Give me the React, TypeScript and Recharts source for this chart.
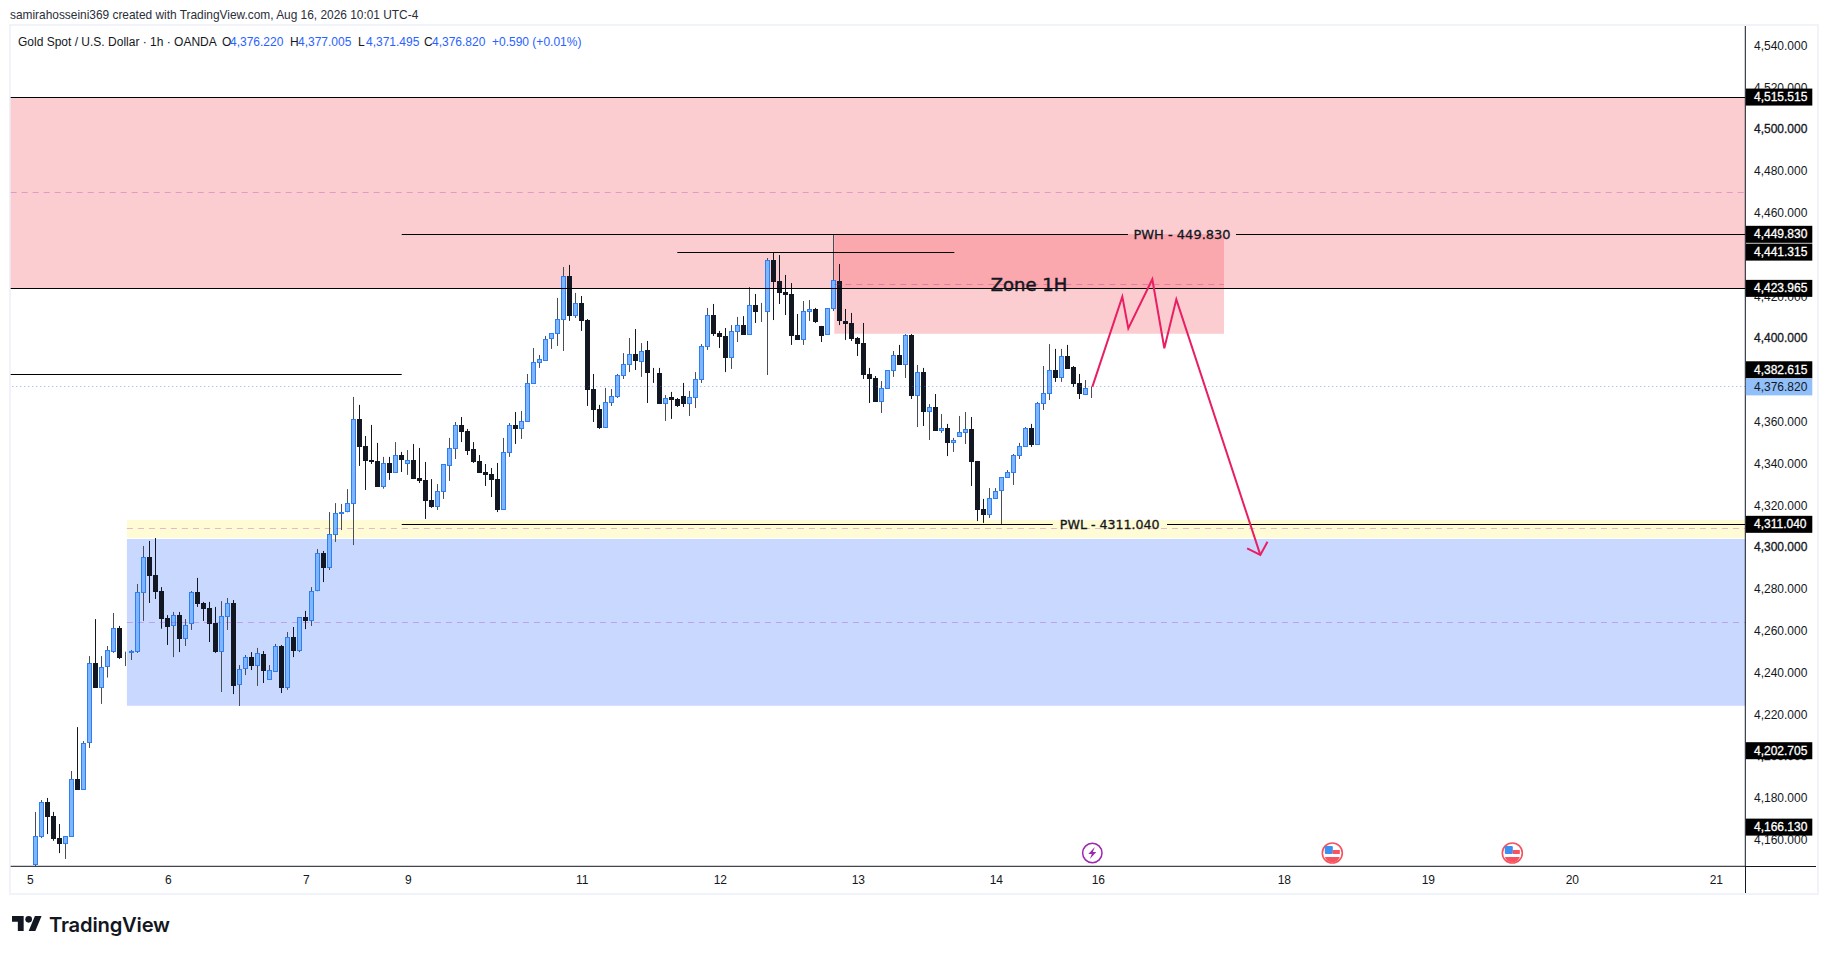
import React from 'react';
import {
  ComposedChart,
  Bar,
  Line,
  XAxis,
  YAxis,
  ReferenceArea,
  ReferenceLine,
  ReferenceDot
} from 'recharts';

const opens = [
  4148, 4161.6, 4178.1, 4171.4, 4160.9, 4158.2, 4161.6, 4189.2, 4184.1, 4206.2, 4244.7, 4232.9, 4242.6, 4250.1, 4261.4, 4247.2,
  4249.6, 4250.1, 4278.3, 4295.4, 4286.8, 4279.1, 4266.2, 4262.2, 4267.6, 4256.3, 4263.2, 4278.7, 4273.4, 4271, 4263.8, 4250.1,
  4266.8, 4273.4, 4234, 4241.6, 4247.5, 4243.4, 4249, 4236.7, 4240.5, 4252.8, 4232.9, 4257.1, 4250.6, 4266.7, 4264.9, 4279,
  4297.3, 4290.3, 4306.1, 4316.1, 4316.8, 4320.9, 4361.4, 4348.5, 4341.8, 4341.3, 4329.1, 4340.4, 4335.8, 4344.2, 4340.1, 4341.8,
  4333.2, 4332.3, 4322.7, 4319.5, 4326.7, 4339.1, 4347.3, 4358.6, 4355.7, 4347.1, 4341.4, 4336.1, 4335.1, 4332.7, 4318.1, 4345.3,
  4358.6, 4356.8, 4360.2, 4378.4, 4388.4, 4389.4, 4399.9, 4402.3, 4409, 4429.9, 4410.7, 4417, 4408.8, 4375.8, 4366.2, 4357.3,
  4369.3, 4372.1, 4382.2, 4387.5, 4392.6, 4388.9, 4394.5, 4383.9, 4383.5, 4368.8, 4372, 4371, 4372.5, 4368.8, 4371.7, 4380.3,
  4396.1, 4411.2, 4402.6, 4401.2, 4390.8, 4403.2, 4406.4, 4401.8, 4416, 4412.8, 4412.8, 4437.5, 4427.5, 4422.2, 4421.3, 4401.7,
  4399.4, 4412.8, 4414.1, 4406, 4401.8, 4414.3, 4427.5, 4408.4, 4407.4, 4400.2, 4397.8, 4383, 4381.1, 4369.7, 4376, 4384.6,
  4392.1, 4387.5, 4401.7, 4372.6, 4383.9, 4365, 4367.2, 4355.9, 4357.1, 4350.1, 4353, 4354.9, 4356.7, 4341.4, 4318.4, 4315.7,
  4323.3, 4327.2, 4333.4, 4335.8, 4343.9, 4348.2, 4357.1, 4349.2, 4368.8, 4373.6, 4384.9, 4381.2, 4391.6, 4386.3, 4378.7, 4373.1,
  4376.22
];
const highs = [
  4173.4, 4179.1, 4180.1, 4173.4, 4167.6, 4161.7, 4193, 4214, 4207.3, 4248, 4265.7, 4248, 4252.8, 4268.6, 4262.4, 4250.1,
  4250.9, 4282.5, 4300.7, 4303.1, 4304.5, 4281, 4267.6, 4269.1, 4269.1, 4265.7, 4279.1, 4285.4, 4273.9, 4273.9, 4271.5, 4274.3,
  4275.8, 4274.8, 4243.7, 4248.5, 4249.9, 4251.9, 4250.4, 4243.7, 4253.8, 4253.3, 4259.5, 4261.9, 4266.5, 4269.6, 4281, 4299.2,
  4298.3, 4316.9, 4321.2, 4320.8, 4327.9, 4372, 4368.2, 4353.3, 4358.6, 4350, 4343.3, 4343.3, 4350.4, 4345.7, 4346.6, 4349.5,
  4347.6, 4340.9, 4332.7, 4330.3, 4339.8, 4352.4, 4360, 4362.4, 4356.7, 4350.4, 4344.2, 4339.9, 4338, 4340.4, 4352.4, 4359.5,
  4364.8, 4365.3, 4383, 4395.4, 4392.1, 4401.2, 4402.5, 4419.4, 4434.2, 4435.2, 4421.8, 4420.3, 4409.3, 4383, 4368.2, 4376.3,
  4375.8, 4383, 4393, 4400.2, 4404.5, 4397.8, 4398.8, 4385.9, 4385.9, 4372.9, 4374.4, 4371.5, 4378.7, 4374.9, 4383.9, 4397.3,
  4414.6, 4416.5, 4403.6, 4405, 4406.4, 4410.3, 4410.7, 4424.6, 4421.3, 4417, 4438.5, 4440.9, 4439.9, 4430.4, 4426.5, 4411.7,
  4417.9, 4418.4, 4414.6, 4406, 4414.4, 4449.8, 4435.6, 4414.1, 4412.2, 4400.7, 4407.4, 4385.9, 4382, 4379.6, 4384.7, 4394,
  4396.9, 4402.1, 4402.1, 4387.3, 4385.9, 4368.6, 4373.4, 4363.8, 4359.1, 4352.4, 4362.9, 4364.8, 4362.4, 4341.4, 4323.2, 4328.4,
  4328.4, 4333.5, 4337, 4344.7, 4350, 4357.6, 4359.1, 4369.6, 4386.8, 4397.3, 4395, 4395, 4396.9, 4386.8, 4383, 4380.1,
  4377.005
];
const lows = [
  4147.5, 4160.9, 4162.8, 4159.6, 4153.7, 4150.9, 4161.6, 4184.1, 4184.1, 4204, 4232.9, 4225.1, 4237.7, 4249.5, 4246.6, 4243.2,
  4246.1, 4249.5, 4264.8, 4273.4, 4275.3, 4261.1, 4253.3, 4247.5, 4249.9, 4252.8, 4260.5, 4271.5, 4264.8, 4254.7, 4249.5, 4230.8,
  4260.5, 4229.8, 4224.1, 4238.9, 4241.3, 4233.7, 4235.1, 4236.7, 4240.5, 4230.3, 4231.8, 4247.5, 4249.9, 4260.9, 4262.4, 4279,
  4283.4, 4289.2, 4302.6, 4308.3, 4316.8, 4301.1, 4339, 4327.5, 4339.9, 4328.9, 4328.1, 4332.3, 4335.8, 4336.1, 4334.7, 4332.7,
  4330.8, 4313.6, 4318.9, 4317.9, 4323.2, 4331.8, 4342.3, 4350.4, 4344.2, 4340.4, 4335.6, 4329.4, 4324.1, 4316.9, 4318.1, 4343.3,
  4349.5, 4351.9, 4360.2, 4378.4, 4385.9, 4389.4, 4395, 4396.4, 4394, 4408.4, 4409.8, 4403.6, 4367.7, 4360, 4356.7, 4357.3,
  4367.7, 4371.5, 4380.6, 4383.9, 4384.9, 4381.6, 4369.1, 4378.7, 4368.6, 4360.5, 4361.5, 4367.2, 4367.2, 4362.9, 4366.7, 4378.7,
  4394.5, 4401.2, 4395.4, 4383.9, 4385.4, 4398.3, 4401.7, 4401.8, 4407.4, 4407.9, 4382.5, 4408.8, 4416.5, 4411.2, 4396.9, 4399.3,
  4396.9, 4408.4, 4407.4, 4398.3, 4401.8, 4413.1, 4406.4, 4399.3, 4398.8, 4391.6, 4380.6, 4369.1, 4369.6, 4364.3, 4376, 4381.6,
  4387.3, 4381.1, 4371, 4357.6, 4358.1, 4351.4, 4355.7, 4354.8, 4343.7, 4345.7, 4353, 4349.5, 4329.4, 4312.6, 4311.7, 4314.1,
  4323.3, 4311.2, 4333.4, 4329.9, 4342.3, 4348.2, 4348.1, 4349.2, 4365.8, 4370.5, 4379.2, 4379.2, 4385.4, 4376.8, 4371, 4372.9,
  4371.495
];
const closes = [
  4161.7, 4178, 4171.1, 4160.6, 4158, 4161.7, 4189, 4184.1, 4206.2, 4244.5, 4232.9, 4242.6, 4250.7, 4261.3, 4247.2, 4247.5,
  4250.4, 4278.5, 4295.2, 4286.5, 4278.8, 4265.9, 4262.1, 4267.5, 4256.3, 4262.7, 4278.5, 4273.1, 4270.7, 4263.5, 4249.9, 4267,
  4273.2, 4233.8, 4241.6, 4247.4, 4243.4, 4249.3, 4241, 4241.2, 4252.7, 4232.9, 4257, 4250.6, 4266.5, 4264.9, 4279, 4297.2,
  4290.3, 4306.3, 4316.3, 4316.9, 4321.1, 4361.3, 4348.2, 4341.5, 4341, 4328.9, 4340.2, 4335.8, 4344.1, 4341.8, 4341.7, 4332.7,
  4331.8, 4322.2, 4319.3, 4326.8, 4339.8, 4347.4, 4358.4, 4355.2, 4346.1, 4340.9, 4335.6, 4334.7, 4332.3, 4317.9, 4345.5, 4358.4,
  4356.7, 4360.3, 4378.5, 4388.6, 4390, 4399.6, 4402.5, 4409.2, 4429.7, 4410.7, 4416.8, 4408.4, 4375.3, 4365.8, 4357.1, 4369.4,
  4372.3, 4382.3, 4387.6, 4392.4, 4389.2, 4393.8, 4383.5, 4383.5, 4368.6, 4371.3, 4370.5, 4367.7, 4368.6, 4371.8, 4380.4, 4396.2,
  4411.1, 4402.1, 4400.7, 4390.6, 4403.4, 4406.3, 4401.7, 4415.9, 4412.7, 4413.1, 4437.4, 4427, 4421.8, 4420.8, 4401.2, 4399.3,
  4413, 4413.9, 4407.9, 4401.2, 4414.4, 4427.8, 4408.4, 4406.9, 4399.7, 4397.3, 4382.5, 4380.6, 4369.6, 4376.1, 4384.7, 4391.9,
  4387.3, 4401.5, 4372.5, 4383.8, 4364.8, 4367, 4355.7, 4357, 4350, 4351.2, 4355.1, 4356.5, 4340.9, 4317.9, 4315.5, 4323.5,
  4326.8, 4333.5, 4335.9, 4344.1, 4348.4, 4357, 4349, 4368.9, 4373.7, 4384.7, 4381.1, 4391.4, 4385.4, 4378.2, 4373.4, 4376.1,
  4376.82
];

// 4,380 and 4,440 sit fully behind the price tags, so they are left out
const priceTicks = [
  4160, 4180, 4200, 4220, 4240, 4260, 4280, 4300, 4320, 4340, 4360, 4400,
  4420, 4460, 4480, 4500, 4520, 4540
];
const dayTicks = [-1, 22, 45, 62, 91, 114, 137, 160, 177, 208, 232, 256, 280];
const dayLabels = ['5', '6', '7', '9', '11', '12', '13', '14', '16', '18', '19', '20', '21'];

const priceTags = [4515.515, 4449.83, 4441.315, 4423.965, 4382.615, 4311.04, 4202.705, 4166.13];
const lastPrice = 4376.82;

const projectionIndex = [176, 181, 182, 186, 188, 190, 204];
const projectionPrice = [4376.82, 4420, 4404.8, 4428.3, 4395.3, 4418.7, 4296.4];
const arrowIndex = [201.8, 204, 205.2];
const arrowPrice = [4299.5, 4296.4, 4302.7];

const candles = opens.map((open, i) => ({
  i,
  open,
  high: highs[i],
  low: lows[i],
  close: closes[i]
}));
const projection = projectionIndex.map((i, k) => ({ i, path: projectionPrice[k] }));
const arrowHead = arrowIndex.map((i, k) => ({ i, path: arrowPrice[k] }));

const X_MIN = -4.27;
const X_MAX = 284.83;
const AXIS_FONT = '"Liberation Sans", Arial, sans-serif';
const INK = '#131722';
const RULE = '#000000';

const Candle = (props: any) => {
  const { x, y, width, height, payload } = props;
  const { open, high, low, close } = payload;
  const up = close >= open;
  const perUnit = Math.abs(height) / (high - low);
  const cx = Math.floor(x + width / 2) + 0.5;
  const top = y + (high - Math.max(open, close)) * perUnit;
  const bottom = y + (high - Math.min(open, close)) * perUnit;
  const bodyTop = Math.round(top) + 0.5;
  const bodyH = Math.max(Math.round(bottom) - Math.round(top) - 1, 0);
  return (
    <g>
      <line x1={cx} x2={cx} y1={y} y2={y + Math.abs(height)} stroke={up ? '#4a4d55' : INK} strokeWidth={1} />
      <rect
        x={cx - 2}
        y={bodyTop}
        width={4}
        height={bodyH}
        fill={up ? '#7fb5fb' : INK}
        stroke={up ? '#2e7ff6' : INK}
        strokeWidth={1}
      />
    </g>
  );
};

// one pixel rule, snapped so it stays as sharp as the reference
const CrispLine = (props: any) => {
  const { x1, x2, y1, y2, stroke, strokeOpacity, strokeDasharray } = props;
  const y = Math.floor((y1 + y2) / 2) + 0.5;
  return (
    <line
      x1={x1}
      x2={x2}
      y1={y}
      y2={y}
      stroke={stroke}
      strokeOpacity={strokeOpacity}
      strokeDasharray={strokeDasharray}
      strokeWidth={1}
    />
  );
};

const PriceTick = (props: any) => {
  const { y, payload } = props;
  const major = payload.value % 100 === 0;
  return (
    <text
      x={1754}
      y={y}
      dy={4}
      fontFamily={AXIS_FONT}
      fontSize={12}
      fill={INK}
      stroke={major ? INK : 'none'}
      strokeWidth={major ? 0.3 : 0}
    >
      {payload.value.toLocaleString('en-US', { minimumFractionDigits: 3 })}
    </text>
  );
};

const DayTick = (props: any) => {
  const { x, index } = props;
  return (
    <text x={x} y={884} textAnchor="middle" fontFamily={AXIS_FONT} fontSize={12} fill={INK}>
      {dayLabels[index]}
    </text>
  );
};

const PriceTag = (props: any) => {
  const { cx, cy, price, bg, ink, nudge = 0 } = props;
  const mid = cy + nudge;
  return (
    <g>
      <rect x={cx + 0.5} y={mid - 8.5} width={66.5} height={17} fill={bg} />
      <text
        x={1754}
        y={mid + 4}
        fontFamily={AXIS_FONT}
        fontSize={12}
        fill={ink}
        stroke={bg === '#000000' ? ink : 'none'}
        strokeWidth={0.3}
      >
        {price.toLocaleString('en-US', { minimumFractionDigits: 3 })}
      </text>
    </g>
  );
};

const Caption = (props: any) => {
  const { cx, cy, text, size, weight } = props;
  return (
    <text
      x={cx}
      y={cy}
      dy={size * 0.36}
      textAnchor="middle"
      fontFamily='"DejaVu Sans", sans-serif'
      fontSize={size}
      fill={INK}
      stroke={INK}
      strokeWidth={weight}
    >
      {text}
    </text>
  );
};

const BoltIcon = ({ cx, cy }: any) => (
  <g>
    <circle cx={cx} cy={cy} r={9.7} fill="#fff" stroke="#9c27b0" strokeWidth={1.5} />
    <path
      d={`M${cx + 2.5} ${cy - 6} L${cx - 4} ${cy + 1} L${cx - 0.5} ${cy + 1} L${cx - 2.5} ${cy + 6} L${cx + 4} ${cy - 1} L${cx + 0.5} ${cy - 1} Z`}
      fill="#9c27b0"
    />
  </g>
);

const FlagIcon = ({ cx, cy }: any) => (
  <g>
    <circle cx={cx} cy={cy} r={10} fill="#fff" stroke="#f7525f" strokeWidth={1.6} />
    <path d={`M${cx - 7.5} ${cy + 4} A8 8 0 0 0 ${cx + 7.5} ${cy + 4} Z`} fill="#f7525f" />
    <rect x={cx - 7.5} y={cy - 7} width={8} height={8} rx={1} fill="#3d8ff0" />
    <rect x={cx + 0.5} y={cy - 3} width={7} height={4} fill="#f7525f" />
  </g>
);

const Quote = ({ left, children, color }: any) => (
  <span style={{ position: 'absolute', left, top: 35, color: color || INK, whiteSpace: 'nowrap' }}>{children}</span>
);

const App = () => {
  return (
    <div style={{ position: 'absolute', left: 0, top: 0, width: 1827, height: 954, background: '#fff', overflow: 'hidden', fontFamily: AXIS_FONT, fontSize: 12 }}>
      <div style={{ position: 'absolute', left: 9, top: 24, width: 1806, height: 867, border: '2px solid #f0f3fa' }} />
      <div style={{ position: 'absolute', left: 10, top: 8, color: '#2a2e39', whiteSpace: 'nowrap', fontSize: 11.9 }}>
        samirahosseini369 created with TradingView.com, Aug 16, 2026 10:01 UTC-4
      </div>

      <div style={{ position: 'absolute', left: 0, top: 0 }}>
        <ComposedChart
          width={1827}
          height={954}
          data={candles}
          margin={{ top: 26, right: 9.7, bottom: 61, left: 10.7 }}
        >
          <XAxis
            dataKey="i"
            type="number"
            domain={[X_MIN, X_MAX]}
            ticks={dayTicks}
            interval={0}
            tick={<DayTick />}
            tickLine={false}
            height={26.7}
            stroke={INK}
            allowDataOverflow
          />
          <YAxis
            orientation="right"
            domain={[4147.38, 4549.53]}
            ticks={priceTicks}
            interval={0}
            tick={<PriceTick />}
            tickLine={false}
            width={72}
            stroke={INK}
            allowDataOverflow
          />

          <ReferenceArea x1={X_MIN} x2={X_MAX} y1={4423.965} y2={4515.515} fill="#f23645" fillOpacity={0.25} stroke="none" />
          <ReferenceArea x1={133} x2={197.95} y1={4402.3} y2={4449.83} fill="#f23645" fillOpacity={0.25} stroke="none" />
          <ReferenceArea x1={15.1} x2={X_MAX} y1={4304.6} y2={4313.1} fill="#ffeb3b" fillOpacity={0.22} stroke="none" />
          <ReferenceArea x1={15.1} x2={X_MAX} y1={4224.25} y2={4304} fill="#2962ff" fillOpacity={0.25} stroke="none" />

          <ReferenceLine segment={[{ x: X_MIN, y: 4469.9 }, { x: X_MAX, y: 4469.9 }]} shape={CrispLine} stroke="#9c27b0" strokeOpacity={0.3} strokeDasharray="6 5" />
          <ReferenceLine segment={[{ x: 133, y: 4425.9 }, { x: 197.95, y: 4425.9 }]} shape={CrispLine} stroke="#9c27b0" strokeOpacity={0.3} strokeDasharray="6 5" />
          <ReferenceLine segment={[{ x: 15.1, y: 4309.1 }, { x: X_MAX, y: 4309.1 }]} shape={CrispLine} stroke="#9c27b0" strokeOpacity={0.3} strokeDasharray="6 5" />
          <ReferenceLine segment={[{ x: 15.1, y: 4264.1 }, { x: X_MAX, y: 4264.1 }]} shape={CrispLine} stroke="#9c27b0" strokeOpacity={0.3} strokeDasharray="6 5" />

          <ReferenceLine y={lastPrice} shape={CrispLine} stroke="#2962ff" strokeOpacity={0.55} strokeDasharray="1 3" />

          <Bar dataKey={(d: any) => [d.low, d.high]} barSize={5} shape={<Candle />} isAnimationActive={false} />

          <ReferenceLine y={4515.515} shape={CrispLine} stroke={RULE} />
          <ReferenceLine y={4423.965} shape={CrispLine} stroke={RULE} />
          <ReferenceLine segment={[{ x: 60.9, y: 4449.83 }, { x: 181.95, y: 4449.83 }]} shape={CrispLine} stroke={RULE} />
          <ReferenceLine segment={[{ x: 199.95, y: 4449.83 }, { x: X_MAX, y: 4449.83 }]} shape={CrispLine} stroke={RULE} />
          <ReferenceLine segment={[{ x: 106.83, y: 4441.315 }, { x: 153, y: 4441.315 }]} shape={CrispLine} stroke={RULE} />
          <ReferenceLine segment={[{ x: X_MIN, y: 4382.615 }, { x: 60.9, y: 4382.615 }]} shape={CrispLine} stroke={RULE} />
          <ReferenceLine segment={[{ x: 60.9, y: 4311.04 }, { x: 169.4, y: 4311.04 }]} shape={CrispLine} stroke={RULE} />
          <ReferenceLine segment={[{ x: 188.45, y: 4311.04 }, { x: X_MAX, y: 4311.04 }]} shape={CrispLine} stroke={RULE} />

          <Line data={projection} dataKey="path" stroke="#e91e63" strokeWidth={2} dot={false} isAnimationActive={false} legendType="none" />
          <Line data={arrowHead} dataKey="path" stroke="#e91e63" strokeWidth={2} dot={false} isAnimationActive={false} legendType="none" />

          <ReferenceDot x={165.45} y={4425.6} ifOverflow="visible" shape={<Caption text="Zone 1H" size={18} weight={0.5} />} />
          <ReferenceDot x={190.95} y={4449.83} ifOverflow="visible" shape={<Caption text="PWH - 449.830" size={13} weight={0.3} />} />
          <ReferenceDot x={178.9} y={4311.04} ifOverflow="visible" shape={<Caption text="PWL - 4311.040" size={12.6} weight={0.3} />} />

          <ReferenceDot x={176} y={4153.75} ifOverflow="visible" shape={<BoltIcon />} />
          <ReferenceDot x={216} y={4153.75} ifOverflow="visible" shape={<FlagIcon />} />
          <ReferenceDot x={246} y={4153.75} ifOverflow="visible" shape={<FlagIcon />} />

          {priceTags.map((p) => (
            <ReferenceDot
              key={p}
              x={X_MAX}
              y={p}
              ifOverflow="visible"
              zIndex={2500}
              shape={<PriceTag price={p} bg="#000000" ink="#ffffff" nudge={p === 4382.615 ? -5 : 0} />}
            />
          ))}
          <ReferenceDot x={X_MAX} y={lastPrice} ifOverflow="visible" zIndex={2500} shape={<PriceTag price={lastPrice} bg="#90bff9" ink={INK} />} />
        </ComposedChart>
      </div>

      <div style={{ position: 'absolute', left: 1745, top: 866, width: 1, height: 27, background: INK }} />
      <div style={{ position: 'absolute', left: 1745, top: 866, width: 71, height: 1, background: INK }} />

      <Quote left={18}>Gold Spot / U.S. Dollar · 1h · OANDA</Quote>
      <Quote left={222}>O</Quote>
      <Quote left={230} color="#2962ff">4,376.220</Quote>
      <Quote left={290}>H</Quote>
      <Quote left={298} color="#2962ff">4,377.005</Quote>
      <Quote left={358}>L</Quote>
      <Quote left={366} color="#2962ff">4,371.495</Quote>
      <Quote left={424}>C</Quote>
      <Quote left={432} color="#2962ff">4,376.820</Quote>
      <Quote left={492} color="#2962ff">+0.590 (+0.01%)</Quote>

      <svg style={{ position: 'absolute', left: 12, top: 916 }} width={30} height={15} viewBox="0 4 36 18">
        <path d="M14 22H7V11H0V4h14v18zM28 22h-8l7.5-18h8L28 22z" fill="#131722" />
        <circle cx={20} cy={8} r={4} fill="#131722" />
      </svg>
      <div style={{ position: 'absolute', left: 49, top: 912, fontFamily: 'Inter, sans-serif', fontWeight: 600, fontSize: 20.2, color: '#131722', whiteSpace: 'nowrap', letterSpacing: -0.2 }}>
        TradingView
      </div>
    </div>
  );
};

export default App;
